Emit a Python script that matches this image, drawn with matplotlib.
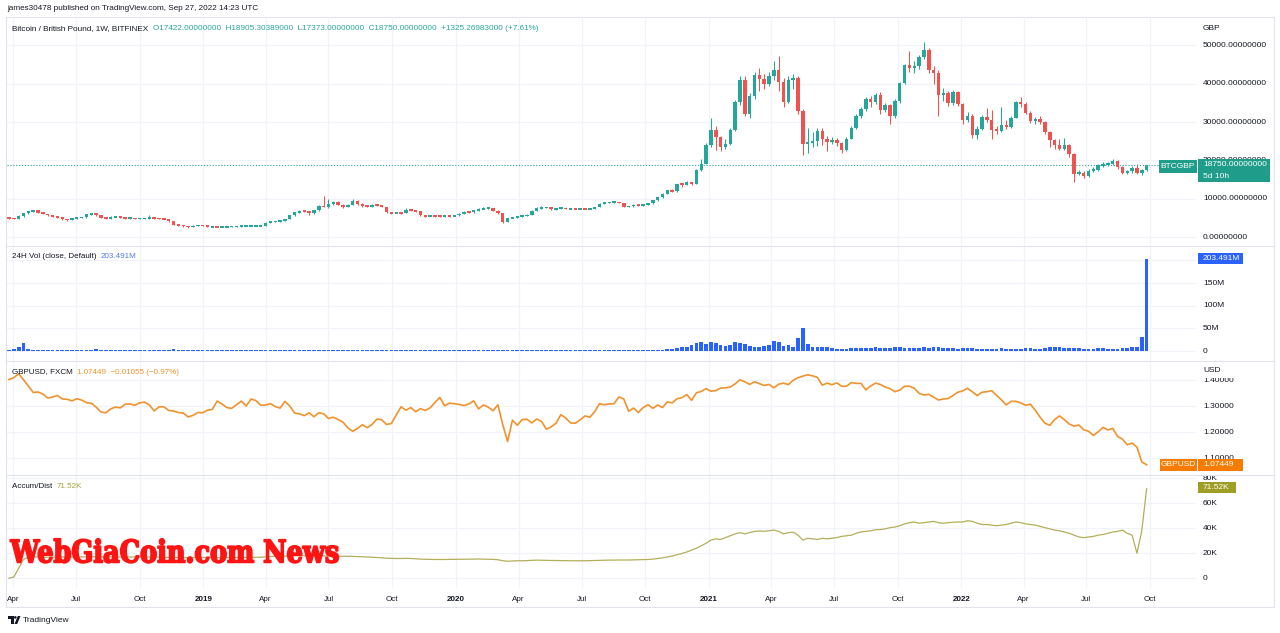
import matplotlib
matplotlib.use('Agg')
import matplotlib.pyplot as plt
import matplotlib.dates as mdates
from matplotlib.patches import Rectangle, PathPatch, Circle, Polygon
from matplotlib.textpath import TextPath
from matplotlib.font_manager import FontProperties
from matplotlib.transforms import Affine2D, Bbox, TransformedBbox
import pandas as pd

plt.rcParams['font.family'] = ['Liberation Sans', 'DejaVu Sans']

W, H = 1280, 633

# ---------------- data (weekly, starting Monday 2018-03-26) ----------------
week_start = '2018-03-26'
first_open = 5150

btc_close = [
    # 2018
    4900, 4850, 5500, 6300, 6700, 7000, 6400, 6100, 5700, 5500,
    5200, 4700, 4500, 4900, 5100, 5200, 6000, 6300, 5700, 5000,
    4900, 5300, 5400, 5000, 4950, 4950, 4900, 4900, 4900, 5000,
    4950, 4900, 4750, 4150, 3300, 3150, 2950, 2600, 3050, 3100,
    # 2019
    3000, 2750, 2750, 2700, 2700, 2750, 2800, 2850, 2900, 2950,
    3000, 3000, 3050, 3800, 4050, 4150, 4300, 4700, 5700, 6500,
    6800, 6750, 6200, 7000, 8200, 7900, 8600, 9300, 8500, 8000,
    8500, 9500, 8700, 8200, 8000, 8400, 8250, 7900, 6500, 6300,
    6350, 6300, 7100, 7000, 6800, 5700, 5550, 5650, 5500, 5400,
    5550, 5500,
    # 2020
    5700, 6100, 6600, 6500, 7000, 7400, 7500, 7600, 6900, 6200,
    4100, 4900, 5100, 5500, 5600, 5800, 6900, 7600, 7700, 7800,
    7300, 7500, 7600, 7400, 7500, 7400, 7500, 7400, 7500, 7900,
    8700, 9000, 9100, 9200, 8900, 7900, 8100, 8400, 8300, 8400,
    8800, 9600, 10400, 11400, 12200, 12000, 13900, 13700, 14300, 14000,
    17450, 19200,
    # 2021
    23960, 28040, 26100, 23520, 24200, 28040, 35240, 40890, 32200, 36720,
    42190, 41320, 40020, 41930, 43670, 40450, 35240, 40890, 41500, 32900,
    24400, 24700, 25100, 27700, 25700, 24900, 25300, 24500, 22840, 25700,
    28560, 31510, 33510, 36120, 35240, 37150, 33070, 34400, 31510, 35420,
    40190, 44790, 44000, 44500, 46960, 48700, 43490, 42790, 36980, 37500,
    34980, 37850, 34810,
    # 2022
    30470, 31590, 26560, 28300, 31340, 30650, 28040, 27800, 29170, 28800,
    31170, 35240, 34800, 32380, 30290, 30700, 30030, 27420, 25260, 23960,
    23100, 23960, 21610, 16580, 16800, 15880, 17270, 17600, 18750, 18900,
    19100, 19880, 18310, 16750, 17300, 18100, 16750, 17422, 18750,
]

btc_high = [
    5400, 5100, 5700, 6450, 6900, 7150, 7050, 6550, 6150, 5850,
    5600, 5250, 4800, 5000, 5250, 5400, 6150, 6450, 6350, 5750,
    5150, 5450, 5550, 5450, 5150, 5050, 5050, 5000, 5000, 5800,
    5100, 5000, 4950, 4800, 4200, 3450, 3250, 3000, 3200, 3300,
    3150, 3050, 2850, 2800, 2800, 2850, 2900, 2950, 2980, 3050,
    3080, 3100, 3150, 3950, 4200, 4300, 4450, 4850, 5900, 6700,
    7000, 7100, 6900, 7100, 8400, 10700, 10100, 9500, 9400, 8700,
    8700, 9900, 9700, 8900, 8500, 8600, 8600, 8400, 8000, 6700,
    6500, 6500, 7500, 7300, 7100, 6850, 5800, 5800, 5750, 5650,
    5700, 5650,
    5800, 6250, 6800, 6750, 7150, 7600, 7800, 7900, 7700, 7000,
    6300, 5100, 5400, 5650, 5800, 6000, 7100, 7800, 8100, 8000,
    7900, 7700, 7950, 7700, 7650, 7600, 7600, 7550, 7600, 8000,
    8900, 9200, 9300, 9350, 9300, 9000, 8250, 8550, 8500, 8550,
    8950, 9800, 10600, 11600, 12400, 12500, 14000, 14200, 14600, 14500,
    17700, 20500,
    24500, 31000, 29000, 26500, 25500, 28500, 35800, 42000, 42000, 37500,
    43000, 44200, 42500, 43000, 46000, 47130, 41500, 42000, 42500, 42000,
    33500, 28500, 27500, 28500, 28500, 26500, 26000, 25800, 24800, 26000,
    29000, 32000, 34000, 36500, 36800, 37500, 37800, 35000, 34600, 36000,
    40500, 45200, 48500, 45800, 47500, 50860, 49200, 44500, 43500, 39000,
    38000, 38300, 38000,
    35000, 32500, 32000, 29000, 31800, 33590, 33140, 29000, 34010, 30500,
    31500, 35600, 36610, 35200, 32800, 31300, 31500, 30400, 27800, 25500,
    25500, 25800, 24300, 22000, 17500, 17200, 17800, 18300, 19000, 19600,
    19700, 20300, 20100, 18500, 17600, 18600, 19200, 17800, 18905,
]

btc_low = [
    4750, 4650, 4800, 5400, 6150, 6600, 6250, 5950, 5550, 5350,
    5000, 4600, 4350, 4450, 4800, 5000, 5150, 5900, 5600, 4900,
    4750, 4850, 5200, 4900, 4850, 4850, 4800, 4820, 4800, 4850,
    4880, 4820, 4700, 4000, 3100, 2950, 2800, 2450, 2550, 2950,
    2900, 2700, 2650, 2600, 2650, 2650, 2700, 2750, 2800, 2850,
    2900, 2920, 2950, 3000, 3750, 3950, 4050, 4250, 4650, 5600,
    6300, 6500, 5900, 6100, 6900, 7800, 7700, 8400, 8300, 7700,
    7900, 8400, 8500, 8000, 7800, 7900, 8100, 7800, 6300, 6150,
    6200, 6100, 6200, 6850, 6600, 5500, 5400, 5450, 5400, 5250,
    5300, 5400,
    5450, 5650, 6000, 6350, 6400, 6900, 7300, 7350, 6800, 6100,
    3600, 4000, 4900, 5000, 5400, 5500, 5750, 6800, 7400, 7500,
    7200, 7200, 7400, 7300, 7350, 7300, 7350, 7300, 7350, 7450,
    7800, 8600, 8900, 8950, 8800, 7800, 7800, 8000, 8150, 8200,
    8300, 8700, 9500, 10300, 11200, 11700, 11900, 13200, 13500, 13700,
    13900, 17300,
    19000, 23500, 22800, 22500, 23000, 24000, 27800, 34500, 31500, 31000,
    36000, 38000, 38500, 39500, 41000, 38000, 34000, 35000, 38500, 32000,
    21500, 22000, 23500, 23800, 24000, 22500, 24200, 23800, 21900, 22500,
    25500, 28200, 31000, 33000, 34000, 34800, 32000, 32500, 29500, 31000,
    35000, 39800, 43000, 42800, 43800, 46500, 42800, 40000, 31510, 35500,
    34200, 34500, 34200,
    29500, 30000, 25800, 25500, 28000, 30000, 25520, 27000, 27500, 28200,
    28500, 31000, 34000, 32000, 29800, 29600, 29500, 27000, 23500, 23000,
    22800, 22800, 21000, 14400, 16200, 15500, 15600, 16900, 17300, 18300,
    18500, 18800, 17900, 16500, 16400, 16800, 16400, 16300, 17373,
]

volume_m = [
    # 2018
    2, 4, 8, 17, 4, 3, 2.5, 2.5, 2, 2, 2, 2, 2.5, 2, 2, 2, 2, 2.5, 4, 2,
    2, 3, 2, 2, 2, 2, 2, 2, 2, 2, 2, 2, 2, 2.5, 3.5, 2.5, 2, 2, 2, 2,
    # 2019
    2, 2, 2, 2, 2, 2, 2, 2, 2, 2, 2, 2, 2.5, 3, 2.5, 2, 2, 2.5, 3, 2.5,
    2, 2, 2.5, 2.5, 3, 2, 2, 2, 2, 2, 2, 2, 2, 2, 2, 2, 2, 2, 2.5, 2,
    2, 2, 2, 2, 2, 2, 2, 2, 2, 2, 2, 2,
    # 2020
    2, 2, 2, 2, 2, 2, 2, 2, 2, 2, 3, 2.5, 2, 2, 2, 2, 2, 2.5, 2, 2,
    2, 2, 2, 2, 2, 2, 2, 2, 2, 2, 2, 2, 2, 2, 2, 2, 2, 2, 2, 2,
    2, 2.5, 3, 3, 4, 5, 6, 8, 10, 14, 18, 20,
    # 2021
    16, 20, 17, 13, 12, 14, 20, 18, 15, 12, 10, 9, 12, 14, 22, 20, 12, 14, 10, 28,
    50, 15, 10, 9, 8, 8, 6, 5, 5, 5, 6, 6, 7, 7, 6, 8, 7, 7, 6, 8,
    8, 7, 7, 6, 6, 8, 7, 9, 8, 6, 6, 6, 5,
    # 2022
    6, 6, 6, 5, 5, 5, 5, 5, 6, 5, 5, 5, 5, 6, 6, 5, 5, 6, 8, 9,
    8, 7, 7, 7, 6, 5, 5, 5, 6, 6, 5, 5, 5, 6, 7, 8, 9, 32, 203.491,
]

gbpusd = [
    # 2018
    1.402, 1.409, 1.424, 1.401, 1.377, 1.352, 1.354, 1.346, 1.331, 1.334,
    1.341, 1.327, 1.326, 1.320, 1.328, 1.323, 1.313, 1.311, 1.296, 1.277,
    1.274, 1.289, 1.296, 1.293, 1.307, 1.308, 1.303, 1.312, 1.315, 1.304,
    1.281, 1.297, 1.297, 1.283, 1.281, 1.275, 1.273, 1.258, 1.264, 1.275,
    # 2019
    1.274, 1.284, 1.287, 1.319, 1.308, 1.294, 1.291, 1.305, 1.319, 1.300,
    1.327, 1.321, 1.303, 1.304, 1.309, 1.298, 1.292, 1.318, 1.300, 1.273,
    1.270, 1.263, 1.274, 1.259, 1.274, 1.270, 1.252, 1.257, 1.248, 1.238,
    1.216, 1.203, 1.214, 1.228, 1.217, 1.229, 1.250, 1.247, 1.229, 1.233,
    1.266, 1.297, 1.284, 1.294, 1.278, 1.290, 1.283, 1.293, 1.314, 1.333,
    1.301, 1.311,
    # 2020
    1.309, 1.306, 1.302, 1.308, 1.320, 1.289, 1.304, 1.296, 1.282, 1.305,
    1.228, 1.164, 1.246, 1.226, 1.248, 1.249, 1.235, 1.250, 1.241, 1.211,
    1.220, 1.234, 1.267, 1.254, 1.235, 1.234, 1.247, 1.262, 1.257, 1.279,
    1.309, 1.305, 1.308, 1.309, 1.335, 1.327, 1.280, 1.292, 1.275, 1.294,
    1.305, 1.291, 1.304, 1.294, 1.316, 1.312, 1.328, 1.332, 1.344, 1.322,
    1.351, 1.356,
    # 2021
    1.367, 1.357, 1.359, 1.369, 1.370, 1.373, 1.385, 1.401, 1.393, 1.383,
    1.393, 1.386, 1.379, 1.383, 1.370, 1.384, 1.388, 1.382, 1.399, 1.409,
    1.415, 1.420, 1.416, 1.410, 1.380, 1.388, 1.382, 1.389, 1.376, 1.376,
    1.390, 1.387, 1.387, 1.362, 1.377, 1.388, 1.383, 1.373, 1.367, 1.355,
    1.361, 1.376, 1.376, 1.368, 1.349, 1.342, 1.345, 1.334, 1.323, 1.327,
    1.329, 1.340, 1.353,
    # 2022
    1.358, 1.368, 1.355, 1.340, 1.353, 1.355, 1.359, 1.341, 1.324, 1.304,
    1.318, 1.318, 1.312, 1.303, 1.307, 1.284, 1.257, 1.234, 1.226, 1.248,
    1.262, 1.248, 1.231, 1.223, 1.227, 1.209, 1.203, 1.187, 1.201, 1.218,
    1.208, 1.214, 1.183, 1.173, 1.151, 1.158, 1.142, 1.085, 1.07449,
]

accum_dist_k = [
    # 2018
    0, 1, 8, 15, 17, 17.2, 17, 16.8, 16.8, 16.9, 17, 17, 16.9, 17, 17.1, 17.1, 17.2, 17.3, 17.1, 17,
    17, 17.1, 17.1, 17, 17, 17, 17, 17, 17, 17, 16.9, 16.9, 16.8, 16.7, 16.6, 16.6, 16.5, 16.5, 16.6, 16.6,
    # 2019
    16.6, 16.6, 16.5, 16.5, 16.5, 16.5, 16.6, 16.6, 16.6, 16.7, 16.7, 16.8, 16.8, 17.2, 17.4, 17.5, 17.6, 17.7, 17.9, 18.0,
    18.0, 17.9, 17.9, 18.0, 18.2, 18.0, 17.8, 17.8, 17.6, 17.5, 17.6, 17.5, 17.3, 17.2, 17.0, 16.8, 16.6, 16.4, 16.0, 15.9,
    15.8, 15.8, 15.9, 15.8, 15.6, 15.3, 15.2, 15.1, 15.0, 15.0, 15.0, 15.1,
    # 2020
    15.1, 15.2, 15.2, 15.3, 15.3, 15.4, 15.3, 15.2, 15.1, 14.8, 14.0, 13.6, 13.8, 14.0, 14.0, 14.1, 14.3, 14.5, 14.4, 14.3,
    14.2, 14.2, 14.1, 14.1, 14.0, 14.0, 14.0, 14.0, 14.1, 14.2, 14.3, 14.4, 14.5, 14.5, 14.6, 14.6, 14.6, 14.7, 14.8, 14.9,
    15.0, 15.3, 15.8, 16.3, 17.0, 17.8, 18.8, 19.8, 21.0, 22.5, 24.0, 26.0,
    # 2021
    28.0, 30.5, 31.5, 31.0, 32.5, 34.0, 35.5, 36.5, 35.5, 36.5, 37.5, 37.8, 37.6, 38.0, 38.5, 37.5, 35.5, 36.5, 36.8, 34.5,
    30.5, 32.0, 31.5, 31.0, 32.0, 31.5, 32.0, 32.5, 33.5, 34.0, 34.5, 36.0, 37.0, 37.5, 38.0, 38.8, 39.0, 39.5, 40.5, 41.0,
    42.0, 43.5, 44.5, 45.0, 44.0, 44.5, 45.0, 45.5, 44.5, 44.0, 44.5, 44.8, 45.0,
    # 2022
    45.0, 46.0, 45.5, 44.0, 43.0, 43.0, 42.5, 42.0, 42.5, 43.0, 44.0, 45.0, 44.5, 43.5, 43.0, 42.5, 41.5, 40.5, 39.5, 38.5,
    38.0, 37.0, 36.0, 34.5, 33.0, 32.5, 33.0, 33.5, 34.5, 35.0, 36.0, 37.0, 37.5, 38.5, 36.0, 34.5, 20.0, 38.0, 71.52,
]

price_ticks = [0, 10000, 20000, 30000, 40000, 50000]
vol_ticks = [0, 50, 100, 150]
fx_ticks = [1.1, 1.2, 1.3, 1.4]
ad_ticks = [0, 20, 40, 60, 80]

# ---------------- layout helpers (pixel coords, y from top) ----------------
UP, DOWN = '#26a69a', '#ef5350'
TXT = '#131722'
GRID = '#f0f3fa'
BORDER = '#e0e3eb'
BLUE, ORANGE, OLIVE = '#2962ff', '#f0922e', '#9e9d24'
FS = 5.8

LEFT, RIGHT, SCALE_R = 7, 1196, 1274

fig = plt.figure(figsize=(12.8, 6.33), dpi=100)
fig.patch.set_facecolor('white')

dates = pd.date_range(week_start, periods=len(btc_close), freq='7D')
xnum = mdates.date2num(dates)
x_lo = xnum[0] - 0.41 * 7
x_hi = xnum[0] + 245.2 * 7
quarters = pd.date_range('2018-04-01', '2022-10-01', freq='QS')


def add_pane(top, bottom, ylim, yticks):
    ax = fig.add_axes([LEFT / W, 1 - bottom / H, (RIGHT - LEFT) / W, (bottom - top) / H])
    for s in ax.spines.values():
        s.set_visible(False)
    ax.tick_params(left=False, bottom=False, labelleft=False, labelbottom=False)
    ax.set_xlim(x_lo, x_hi)
    ax.set_ylim(*ylim)
    for q in quarters:
        ax.axvline(mdates.date2num(q), color=GRID, lw=0.9, zorder=0)
    for t in yticks:
        ax.axhline(t, color=GRID, lw=0.9, zorder=0)
    return ax


def add_scale(top, bottom, ylim, ticks, fmt):
    ax = fig.add_axes([RIGHT / W, 1 - bottom / H, (SCALE_R - RIGHT) / W, (bottom - top) / H])
    ax.set_xlim(0, 1)
    ax.set_ylim(*ylim)
    ax.axis('off')
    out = {}
    for t in ticks:
        out[t] = ax.text(0.09, t, fmt(t), fontsize=6.0, color=TXT, va='center', ha='left', clip_on=True)
    return ax, out


# price pane
ax_p = add_pane(19, 246, (-2270, 56850), price_ticks)
opens = [first_open] + btc_close[:-1]
for xi, o, c, hi, lo in zip(xnum, opens, btc_close, btc_high, btc_low):
    col = UP if c >= o else DOWN
    ax_p.vlines(xi, lo, hi, color=col, lw=0.75, zorder=2)
    height = max(abs(c - o), 450)
    bottom = min(o, c) if abs(c - o) >= 450 else (o + c) / 2 - 225
    ax_p.bar(xi, height, bottom=bottom, width=5.0, color=col, lw=0, zorder=3)
ax_p.axhline(btc_close[-1], color=UP, lw=0.8, ls=(0, (1, 1.6)), zorder=1)
sc_p, lab_p = add_scale(19, 246, (-2270, 56850), price_ticks, lambda v: f'{v:.8f}')

# volume pane
ax_v = add_pane(246, 361, (-22, 232), vol_ticks + [200])
ax_v.bar(xnum, volume_m, width=5.4, color=BLUE, lw=0, zorder=2)
add_scale(246, 361, (-22, 232), vol_ticks, lambda v: '0' if v == 0 else f'{v:.0f}M')

# GBPUSD pane
ax_f = add_pane(361, 475, (1.035, 1.473), fx_ticks)
ax_f.plot(xnum, gbpusd, color=ORANGE, lw=1.2, zorder=2)
sc_f, lab_f = add_scale(361, 475, (1.035, 1.473), fx_ticks, lambda v: f'{v:.5f}')

# Accum/Dist pane
ax_a = add_pane(475, 588, (-7.8, 82.6), ad_ticks)
ax_a.plot(xnum, accum_dist_k, color='#b3ae5a', lw=0.9, zorder=2)
add_scale(475, 588, (-7.8, 82.6), ad_ticks, lambda v: '0' if v == 0 else f'{v:.0f}K')


# labels partly hidden behind boxes / unit captions: clip them to the visible strip
def clip_rows(txt, y_top_px, y_bottom_px):
    bb = TransformedBbox(Bbox([[RIGHT, H - y_bottom_px], [SCALE_R, H - y_top_px]]), Affine2D())
    txt.set_clip_box(bb)


clip_rows(lab_p[20000], 0, 159)
clip_rows(lab_f[1.1], 0, 459)
clip_rows(lab_f[1.4], 378, H)

# time axis labels
tr = ax_a.get_xaxis_transform()
for q in quarters:
    lab = str(q.year) if q.month == 1 else q.strftime('%b')
    ax_a.text(mdates.date2num(q), -0.1, lab, transform=tr, fontsize=FS, color=TXT,
              ha='center', va='center', fontweight='bold' if q.month == 1 else 'normal', clip_on=False)

# ---------------- overlay in pixel coordinates ----------------
ov = fig.add_axes([0, 0, 1, 1], zorder=10)
ov.set_xlim(0, W)
ov.set_ylim(H, 0)
ov.axis('off')
ov.patch.set_alpha(0)

ov.add_patch(Rectangle((6, 17), 1268, 590, fill=False, ec=BORDER, lw=0.8))
for yy in (246, 361, 475):
    ov.plot([6, 1274], [yy, yy], color=BORDER, lw=0.8)

ov.text(7, 8, 'james30478 published on TradingView.com, Sep 27, 2022 14:23 UTC',
        fontsize=5.85, color=TXT, va='center', ha='left')

fig.canvas.draw()
renderer = fig.canvas.get_renderer()


def runs(x, y, parts, size=FS):
    for txt, col in parts:
        t = ov.text(x, y, txt, fontsize=size, color=col, va='center', ha='left')
        x += t.get_window_extent(renderer).width


runs(12, 29, [('Bitcoin / British Pound, 1W, BITFINEX  ', TXT),
              ('O17422.00000000  H18905.30389000  L17373.00000000  C18750.00000000  +1325.26983000 (+7.61%)', UP)],
     size=5.85)
runs(12, 257, [('24H Vol (close, Default)  ', TXT), ('203.491M', '#4f7bf7')])
runs(12, 372, [('GBPUSD, FXCM  ', TXT), ('1.07449  \u22120.01055 (\u22120.97%)', ORANGE)])
runs(12, 486, [('Accum/Dist  ', TXT), ('71.52K', '#a5a13a')])

# scale unit labels
ov.text(1203, 29, 'GBP', fontsize=6.0, color=TXT, va='center', ha='left')
ov.text(1203, 371, 'USD', fontsize=6.0, color=TXT, va='center', ha='left')


def value_box(x0, y0, x1, y1, col, lines, ha='left'):
    ov.add_patch(Rectangle((x0, y0), x1 - x0, y1 - y0, fc=col, ec='none'))
    n = len(lines)
    for k, s in enumerate(lines):
        yy = y0 + (y1 - y0) * (k + 0.5) / n
        if ha == 'center':
            ov.text((x0 + x1) / 2, yy, s, fontsize=6.0, color='white', va='center', ha='center')
        else:
            ov.text(x0 + 5, yy, s, fontsize=6.0, color='white', va='center', ha='left')


BOX_TEAL = '#1f9d8a'
value_box(1159, 160, 1197, 173, BOX_TEAL, ['BTCGBP'], ha='center')
value_box(1198, 159, 1270, 182, BOX_TEAL, ['18750.00000000', '5d 10h'])
value_box(1198, 253, 1243, 264, BLUE, ['203.491M'])
value_box(1160, 459, 1197, 471, '#f57c00', ['GBPUSD'], ha='center')
value_box(1198, 459, 1243, 471, '#f57c00', ['1.07449'])
value_box(1198, 482, 1236, 493, OLIVE, ['71.52K'])

# watermark
fp = FontProperties(family='DejaVu Serif', weight='bold')
tp = TextPath((0, 0), 'WebGiaCoin.com News', size=10, prop=fp)
ext = tp.get_extents()
sx = 328.0 / ext.width
sy = 24.0 / ext.height
tf = Affine2D().translate(-ext.x0, -ext.y0).scale(sx, -sy).translate(10.3, 562.8)
ov.add_patch(PathPatch(tf.transform_path(tp), fc='#ff1414', ec='#ff1414', lw=1.3, joinstyle='round'))

# TradingView logo + name
ov.add_patch(Rectangle((8, 616), 5.5, 2.6, fc=TXT, ec='none'))
ov.add_patch(Rectangle((10.8, 616), 2.7, 8, fc=TXT, ec='none'))
ov.add_patch(Circle((15.3, 617.4), 1.3, fc=TXT, ec='none'))
ov.add_patch(Polygon([(14.5, 624), (17.8, 616), (20.5, 616), (17.2, 624)], closed=True, fc=TXT, ec='none'))
ov.text(23, 620, 'TradingView', fontsize=6.0, color=TXT, va='center', ha='left')

fig.savefig('out.png', dpi=100, facecolor='white')
